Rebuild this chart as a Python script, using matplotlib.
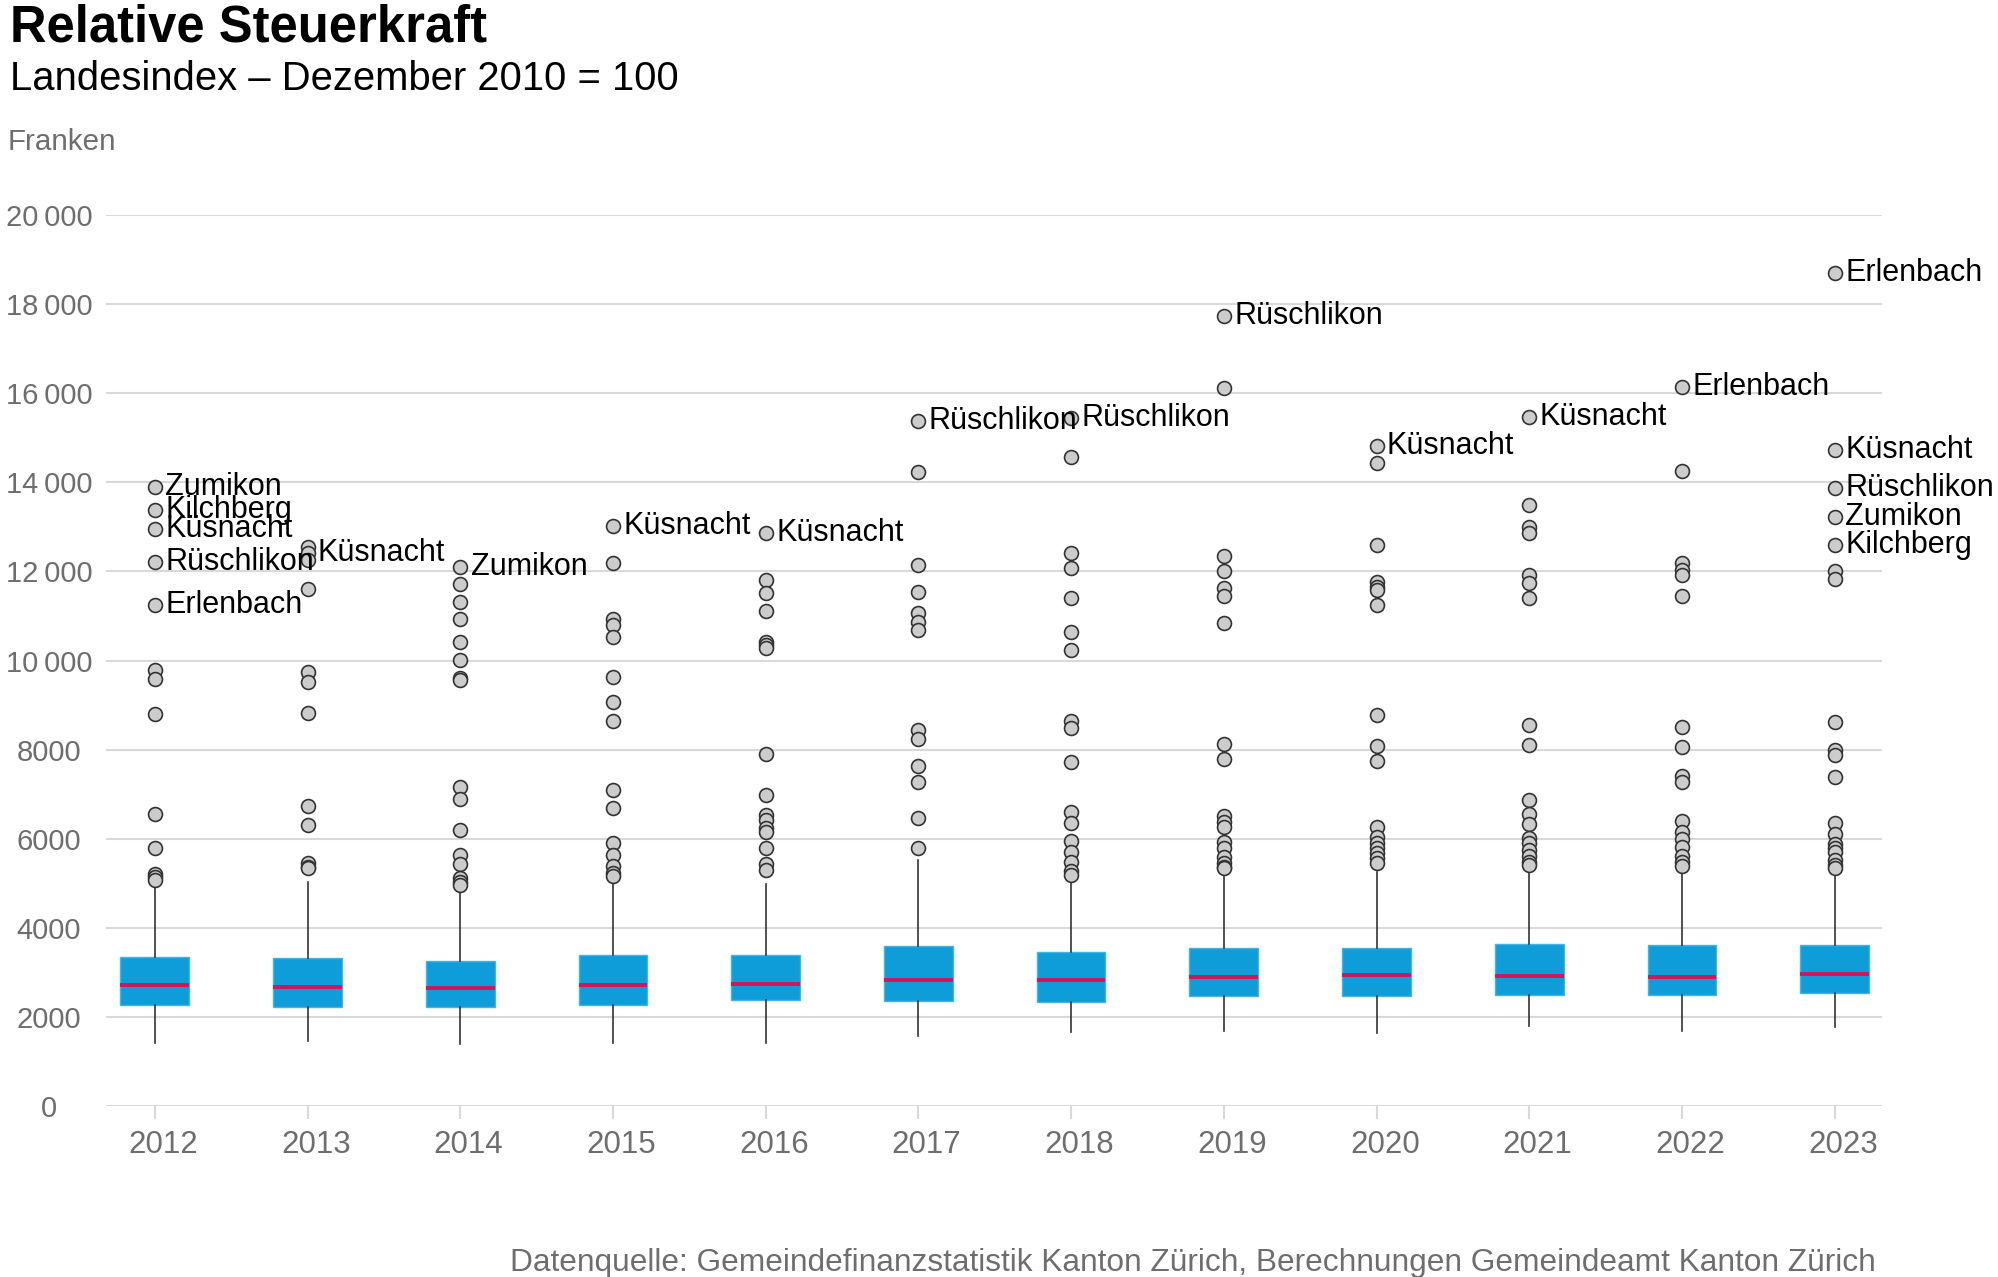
import numpy as np
import matplotlib
matplotlib.use("Agg")
import matplotlib.pyplot as plt
import matplotlib.transforms as mtransforms
from matplotlib.ticker import FuncFormatter

plt.rcParams['font.family'] = ['Liberation Sans', 'DejaVu Sans']

years = [2012, 2013, 2014, 2015, 2016, 2017, 2018, 2019, 2020, 2021, 2022, 2023]

q1 = [2267, 2229, 2229, 2267, 2379, 2357, 2341, 2469, 2476, 2498, 2498, 2536]
med = [2716, 2678, 2642, 2716, 2731, 2828, 2828, 2896, 2941, 2918, 2903, 2956]
q3 = [3351, 3329, 3255, 3389, 3382, 3584, 3450, 3539, 3547, 3636, 3614, 3607]
whis_lo = [1407, 1466, 1385, 1421, 1421, 1579, 1668, 1691, 1646, 1805, 1691, 1766]
whis_hi = [4950, 5020, 4880, 5100, 4976, 5522, 5120, 5300, 5260, 5300, 5330, 5280]

outliers = [
    [13888, 13378, 12945, 12204, 11246, 9787, 9585, 8799, 6561, 5784, 5201, 5130, 5073],
    [12555, 12420, 12256, 11598, 9749, 9524, 8829, 6734, 6307, 5461, 5371, 5335],
    [12106, 11710, 11306, 10925, 10409, 10011, 9600, 9560, 7154, 6899, 6202, 5634,
     5432, 5111, 5035, 4961],
    [13026, 12182, 10941, 10797, 10535, 9623, 9062, 8649, 7086, 6696, 5910, 5634,
     5394, 5222, 5163],
    [12855, 11807, 11508, 11111, 10423, 10348, 10273, 7901, 6974, 6532, 6420, 6233,
     6157, 5798, 5425, 5297],
    [15383, 14224, 12144, 11545, 11059, 10872, 10685, 8440, 8230, 7639, 7265, 6465, 5784],
    [15436, 14578, 12406, 12083, 11395, 10632, 10236, 8649, 8492, 7729, 6592, 6345,
     5955, 5694, 5483, 5282, 5185],
    [17733, 16110, 12353, 12009, 11635, 11455, 10835, 8119, 7789, 6510, 6383, 6270,
     5919, 5784, 5596, 5447, 5371, 5335],
    [14815, 14441, 12593, 11769, 11643, 11583, 11246, 8784, 8081, 7737, 6263, 6045,
     5896, 5784, 5671, 5559, 5461],
    [15474, 13484, 13004, 12855, 11919, 11732, 11395, 8559, 8103, 6869, 6554, 6323,
     6009, 5896, 5746, 5618, 5483, 5409],
    [16132, 14246, 12182, 12031, 11919, 11448, 8514, 8058, 7407, 7280, 6391, 6157,
     5987, 5807, 5618, 5483, 5394],
    [18706, 14725, 13879, 13214, 12593, 12016, 11822, 8620, 7991, 7879, 7392, 6345,
     6105, 5881, 5784, 5709, 5522, 5409, 5335],
]

# labelled municipalities: (year, name, value)
labels = [
    (2012, "Zumikon", 13888), (2012, "Kilchberg", 13378), (2012, "Küsnacht", 12945),
    (2012, "Rüschlikon", 12204), (2012, "Erlenbach", 11246),
    (2013, "Küsnacht", 12420),
    (2014, "Zumikon", 12106),
    (2015, "Küsnacht", 13026),
    (2016, "Küsnacht", 12855),
    (2017, "Rüschlikon", 15383),
    (2018, "Rüschlikon", 15436),
    (2019, "Rüschlikon", 17733),
    (2020, "Küsnacht", 14815),
    (2021, "Küsnacht", 15474),
    (2022, "Erlenbach", 16132),
    (2023, "Erlenbach", 18706), (2023, "Küsnacht", 14725), (2023, "Rüschlikon", 13879),
    (2023, "Zumikon", 13214), (2023, "Kilchberg", 12593),
]

GRID = '#d9d9d9'
TXT = '#6e6e6e'

fig = plt.figure(figsize=(19.99, 12.77), dpi=100)
ax = fig.add_axes([0.053, 0.1339, 0.8885, 0.6977])

stats = []
for i in range(len(years)):
    stats.append(dict(med=med[i], q1=q1[i], q3=q3[i], whislo=whis_lo[i],
                      whishi=whis_hi[i], fliers=outliers[i]))

pos = np.arange(len(years))
ax.bxp(stats, positions=pos, widths=0.45, patch_artist=True, showcaps=False,
       boxprops=dict(facecolor='#0e9dd8', edgecolor='#45b3e3', linewidth=1),
       medianprops=dict(color='#d4145a', linewidth=2.8),
       whiskerprops=dict(color='#333333', linewidth=1.2),
       flierprops=dict(marker='o', markersize=10, markerfacecolor='#cccccc',
                       markeredgecolor='#333333', markeredgewidth=1.2),
       zorder=3)

for yr, name, val in labels:
    i = years.index(yr)
    ax.annotate(name, (i, val), xytext=(7.5, 0), textcoords='offset points',
                ha='left', va='center', fontsize=22, color='black', zorder=5,
                annotation_clip=False)

ax.set_xlim(-0.32, 11.31)
ax.set_ylim(0, 20000)
ax.set_yticks(np.arange(0, 20001, 2000))


def fmt(v, p):
    v = int(round(v))
    if v >= 10000:
        return f"{v // 1000}\u2009{v % 1000:03d}"
    return str(v)


ax.yaxis.set_major_formatter(FuncFormatter(fmt))
ax.set_xticks(pos)
ax.set_xticklabels([str(y) for y in years])
ax.grid(axis='y', color=GRID, linewidth=1.5, zorder=0)
ax.set_axisbelow(True)
for s in ax.spines.values():
    s.set_visible(False)
ax.tick_params(axis='y', length=0, pad=41, labelsize=21, labelcolor=TXT)
ax.tick_params(axis='x', length=9, width=1.5, color=GRID, pad=8, labelsize=22.5,
               labelcolor=TXT)
for lab in ax.get_yticklabels():
    lab.set_horizontalalignment('center')
shift = mtransforms.ScaledTranslation(6 / 72, 0, fig.dpi_scale_trans)
for lab in ax.get_xticklabels():
    lab.set_transform(lab.get_transform() + shift)

fig.text(0.005, 1 - 41 / 1277, "Relative Steuerkraft", fontsize=36.5, fontweight='bold',
         va='baseline', ha='left', color='black')
fig.text(0.005, 1 - 90 / 1277, "Landesindex \u2013 Dezember 2010 = 100", fontsize=28.8,
         va='baseline', ha='left', color='black')
fig.text(0.004, 1 - 150 / 1277, "Franken", fontsize=21.3, va='baseline', ha='left',
         color=TXT)
fig.text(1876 / 1999, 1 - 1271 / 1277,
         "Datenquelle: Gemeindefinanzstatistik Kanton Zürich, Berechnungen Gemeindeamt Kanton Zürich",
         fontsize=22.8, va='baseline', ha='right', color=TXT)

fig.savefig("out.png", dpi=100)
